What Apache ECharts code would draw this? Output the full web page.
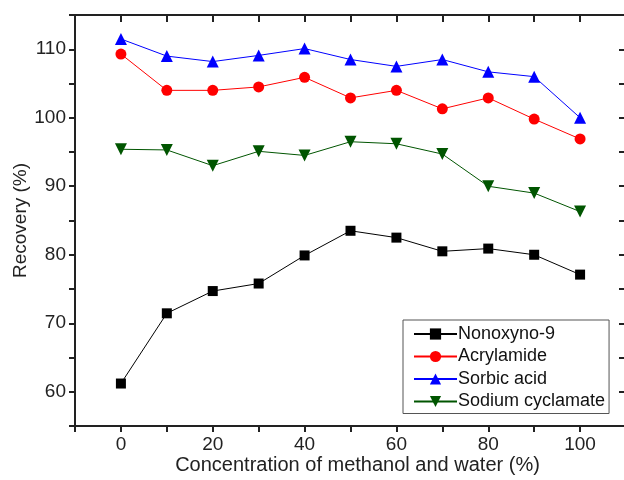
<!DOCTYPE html>
<html>
<head>
<meta charset="utf-8">
<script src="https://cdn.jsdelivr.net/npm/echarts@6/dist/echarts.min.js"></script>
<style>
html,body{margin:0;padding:0;background:#fff;overflow:hidden;}
#c{width:624px;height:480px;}
</style>
</head>
<body>
<div id="c"></div>
<script>
var concentrations = [0, 10, 20, 30, 40, 50, 60, 70, 80, 90, 100];
var nonoxyno9 = [61.2, 71.45, 74.7, 75.8, 79.9, 83.5, 82.5, 80.5, 80.9, 80.0, 77.1];
var acrylamide = [109.3, 104.0, 104.0, 104.5, 105.9, 102.9, 104.0, 101.3, 102.9, 99.8, 96.9];
var sorbicAcid = [111.5, 109.0, 108.2, 109.1, 110.1, 108.5, 107.5, 108.5, 106.7, 106.0, 100.0];
var sodiumCyclamate = [95.4, 95.3, 93.0, 95.1, 94.5, 96.5, 96.2, 94.7, 90.0, 89.0, 86.3];
var seriesNames = ['Nonoxyno-9', 'Acrylamide', 'Sorbic acid', 'Sodium cyclamate'];
var xTickLabels = ['0', '20', '40', '60', '80', '100'];
var yTickLabels = ['60', '70', '80', '90', '100', '110'];

function pairs(vals) {
  return concentrations.map(function (c, i) { return [c, vals[i]]; });
}

var font = '"Liberation Sans", Arial, sans-serif';
var axisColor = '#222';

var chart = echarts.init(document.getElementById('c'), null, {renderer: 'canvas'});

function mkSeries(name, vals, color, symbol, size, rotate) {
  return {
    name: name,
    type: 'line',
    data: pairs(vals),
    symbol: symbol,
    symbolSize: size,
    symbolRotate: rotate || 0,
    showSymbol: true,
    lineStyle: {color: color, width: 1},
    itemStyle: {color: color},
    emphasis: {disabled: true},
    animation: false,
    z: 3
  };
}

chart.setOption({
  animation: false,
  grid: {left: 75, top: 15, width: 551, height: 411, containLabel: false, outerBoundsMode: 'none'},
  legend: {
    orient: 'vertical',
    left: 403,
    top: 320,
    padding: [5, 4, 3, 10],
    borderColor: '#555',
    borderWidth: 1,
    itemWidth: 43,
    itemHeight: 14,
    itemGap: 4.5,
    textStyle: {fontFamily: font, fontSize: 18, color: '#111', padding: [0, 0, 0, -4]},
    data: seriesNames
  },
  xAxis: [{
    type: 'value',
    min: -10, max: 110, interval: 10,
    position: 'bottom',
    name: 'Concentration of methanol and water (%)',
    nameLocation: 'middle',
    nameGap: 29,
    nameMoveOverlap: false,
    nameTextStyle: {fontFamily: font, fontSize: 20, color: axisColor, padding: [0, 0, 0, 14]},
    axisLine: {show: true, onZero: false, lineStyle: {color: axisColor, width: 2}},
    axisTick: {show: true, inside: false, length: 6, lineStyle: {color: axisColor, width: 2}},
    axisLabel: {
      fontFamily: font, fontSize: 19, color: axisColor, margin: 9,
      formatter: function (v) { var s = String(v); return xTickLabels.indexOf(s) >= 0 ? s : ''; }
    },
    splitLine: {show: false}
  }, {
    type: 'value',
    min: -10, max: 110, interval: 10,
    position: 'top',
    axisLine: {show: true, onZero: false, lineStyle: {color: axisColor, width: 2}},
    axisTick: {show: true, inside: true, length: 7, lineStyle: {color: axisColor, width: 2}},
    axisLabel: {show: false},
    splitLine: {show: false}
  }],
  yAxis: [{
    type: 'value',
    min: 55, max: 115, interval: 5,
    position: 'left',
    name: 'Recovery (%)',
    nameLocation: 'middle',
    nameGap: 45,
    nameMoveOverlap: false,
    nameTextStyle: {fontFamily: font, fontSize: 19, color: axisColor},
    axisLine: {show: true, onZero: false, lineStyle: {color: axisColor, width: 2}},
    axisTick: {show: true, inside: false, length: 6, lineStyle: {color: axisColor, width: 2}},
    axisLabel: {
      fontFamily: font, fontSize: 19, color: axisColor, margin: 9,
      formatter: function (v) { var s = String(v); return yTickLabels.indexOf(s) >= 0 ? s : ''; }
    },
    splitLine: {show: false}
  }, {
    type: 'value',
    min: 55, max: 115, interval: 5,
    position: 'right',
    axisLine: {show: true, onZero: false, lineStyle: {color: axisColor, width: 2}},
    axisTick: {show: true, inside: true, length: 7, lineStyle: {color: axisColor, width: 2}},
    axisLabel: {show: false},
    splitLine: {show: false}
  }],
  series: [
    mkSeries(seriesNames[0], nonoxyno9, '#000000', 'rect', 10),
    mkSeries(seriesNames[1], acrylamide, '#ff0000', 'circle', 11),
    mkSeries(seriesNames[2], sorbicAcid, '#0000ff', 'triangle', 12),
    mkSeries(seriesNames[3], sodiumCyclamate, '#005500', 'triangle', 12, 180)
  ]
});
</script>
</body>
</html>
